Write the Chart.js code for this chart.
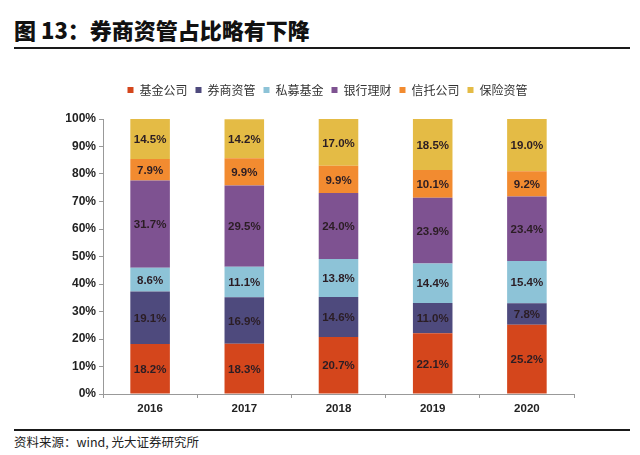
<!DOCTYPE html>
<html>
<head>
<meta charset="utf-8">
<script src="https://cdn.jsdelivr.net/npm/chart.js@4/dist/chart.umd.min.js"></script>
<style>
  html, body { margin: 0; padding: 0; background: #fff; }
  body { width: 640px; height: 455px; position: relative; overflow: hidden; font-family: "Noto Sans CJK SC", sans-serif; }
  #title { position: absolute; left: 14px; top: 13px; font-size: 22px; font-weight: 900; color: #111; white-space: nowrap; }
  #topline { position: absolute; left: 14px; top: 47px; width: 616px; height: 2px; background: #1a1a1a; }
  #botline { position: absolute; left: 14px; top: 429px; width: 616px; height: 2px; background: #1a1a1a; }
  #source { position: absolute; left: 14px; top: 432px; font-size: 12.5px; color: #222; white-space: nowrap; }
  #wrap { position: absolute; left: 0; top: 60px; width: 640px; height: 360px; }
</style>
</head>
<body>
<div id="title">图 13：券商资管占比略有下降</div>
<div id="topline"></div>
<div id="wrap"><canvas id="c"></canvas></div>
<div id="botline"></div>
<div id="source">资料来源：wind, 光大证券研究所</div>
<script>
const categories = ['2016', '2017', '2018', '2019', '2020'];
const seriesNames = ['基金公司', '券商资管', '私募基金', '银行理财', '信托公司', '保险资管'];
const fundCompany   = [18.2, 18.3, 20.7, 22.1, 25.2];
const brokerAM      = [19.1, 16.9, 14.6, 11.0, 7.8];
const privateFund   = [8.6, 11.1, 13.8, 14.4, 15.4];
const bankWM        = [31.7, 29.5, 24.0, 23.9, 23.4];
const trustCompany  = [7.9, 9.9, 9.9, 10.1, 9.2];
const insuranceAM   = [14.5, 14.2, 17.0, 18.5, 19.0];
const yTicks = [0, 10, 20, 30, 40, 50, 60, 70, 80, 90, 100];

const seriesValues = [fundCompany, brokerAM, privateFund, bankWM, trustCompany, insuranceAM];
const colors = ['#D4461C', '#4E4A7D', '#8DC3D7', '#7E5291', '#F28B30', '#E4BB45'];

const labelPlugin = {
  id: 'segLabels',
  afterDatasetsDraw(chart) {
    const ctx = chart.ctx;
    ctx.save();
    ctx.font = 'bold 11.5px "Liberation Sans", Arial, sans-serif';
    ctx.fillStyle = '#2b1d24';
    ctx.textAlign = 'center';
    ctx.textBaseline = 'middle';
    chart.data.datasets.forEach((ds, i) => {
      const meta = chart.getDatasetMeta(i);
      meta.data.forEach((el, j) => {
        const v = ds.data[j];
        const y = (el.y + el.base) / 2;
        ctx.fillText(v.toFixed(1) + '%', el.x, y + 1);
      });
    });
    ctx.restore();
  }
};

const legendGap = {
  id: 'legendGap',
  beforeInit(chart) {
    const fit = chart.legend.fit;
    chart.legend.fit = function () {
      fit.call(this);
      this.height += 13;
    };
  },
  afterLayout(chart) {
    // centre the legend over the plot area rather than the whole canvas
    const lg = chart.legend;
    const ca = chart.chartArea;
    const shift = (ca.left + ca.right) / 2 - (lg.left + lg.right) / 2 - 11;
    lg.left += shift;
    lg.right += shift;
  }
};

new Chart(document.getElementById('c'), {
  type: 'bar',
  data: {
    labels: categories,
    datasets: seriesNames.map((n, i) => ({
      label: n,
      data: seriesValues[i],
      backgroundColor: colors[i],
      borderWidth: 0,
      categoryPercentage: 1,
      barPercentage: 0.42
    }))
  },
  options: {
    responsive: true,
    maintainAspectRatio: false,
    animation: false,
    layout: { padding: { top: 16, right: 66, bottom: 0, left: 0 } },
    plugins: {
      legend: {
        position: 'top',
        labels: {
          boxWidth: 6, boxHeight: 6, padding: 8,
          color: '#333',
          font: { size: 12, family: '"Noto Sans CJK SC", sans-serif' }
        }
      },
      tooltip: { enabled: false }
    },
    scales: {
      x: {
        stacked: true,
        grid: { drawOnChartArea: false, drawTicks: true, tickLength: 4, color: '#999', offset: true },
        border: { display: true, color: '#999', width: 1 },
        ticks: { color: '#222', font: { size: 11.5, weight: 'bold', family: '"Liberation Sans", Arial, sans-serif' }, padding: 4 },
        afterFit(s) { s.height = 26; }
      },
      y: {
        stacked: true,
        min: 0, max: 100,
        afterBuildTicks(s) { s.ticks = yTicks.map(v => ({ value: v })); },
        grid: { drawOnChartArea: false, drawTicks: true, tickLength: 4, color: '#999' },
        border: { display: true, color: '#999', width: 1 },
        ticks: { color: '#222', padding: 3, font: { size: 12, weight: 'bold', family: '"Liberation Sans", Arial, sans-serif' }, callback: v => v + '%' },
        afterFit(s) { s.width = 103; }
      }
    }
  },
  plugins: [labelPlugin, legendGap]
});
</script>
</body>
</html>
